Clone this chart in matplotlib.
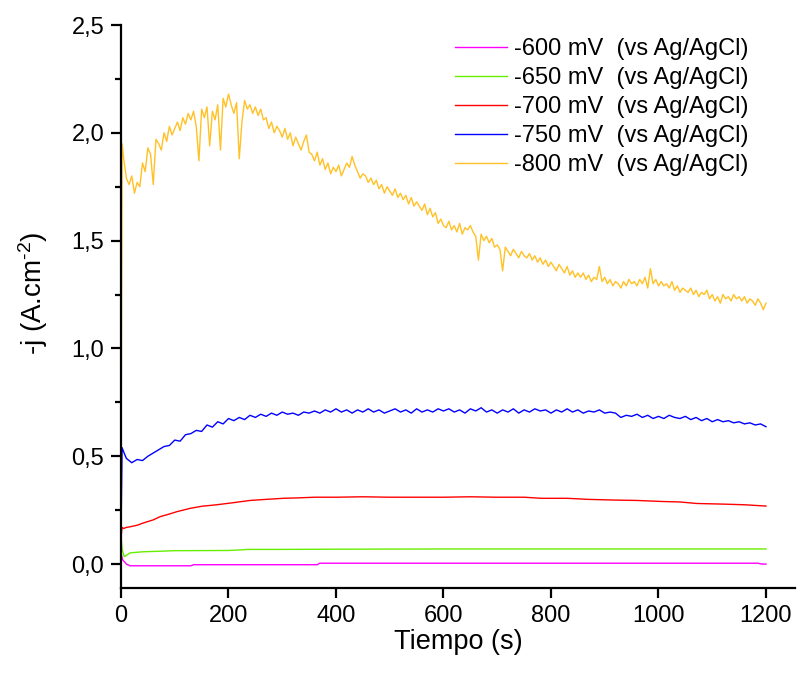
import matplotlib
matplotlib.use("Agg")
import matplotlib.pyplot as plt
from matplotlib.ticker import FuncFormatter, MultipleLocator

plt.rcParams['font.family'] = ['Liberation Sans', 'DejaVu Sans']
plt.rcParams['mathtext.fontset'] = 'custom'
plt.rcParams['mathtext.rm'] = 'Liberation Sans'
plt.rcParams['mathtext.it'] = 'Liberation Sans'

# -600 mV
t_600 = [0, 3, 10, 17, 130, 135, 365, 370, 1185, 1192, 1200]
j_600 = [0.05, 0.02, 0.0, -0.008, -0.008, -0.003, -0.003, 0.004, 0.004, 0.0, 0.0]

# -650 mV
t_650 = [0, 2, 6, 17, 41, 79, 98, 200, 225, 235, 300, 400, 600, 800, 1000, 1200]
j_650 = [0.13, 0.07, 0.034, 0.052, 0.057, 0.06, 0.062, 0.063, 0.066, 0.068,
         0.068, 0.069, 0.07, 0.07, 0.07, 0.07]

# -700 mV
t_700 = [0, 2, 5, 10, 17, 30, 41, 60, 73, 90, 104, 128, 150, 178, 210, 240,
         270, 302, 330, 360, 400, 450, 500, 550, 600, 650, 700, 750, 782, 830,
         870, 916, 960, 1009, 1040, 1071, 1121, 1160, 1200]
j_700 = [0.125, 0.17, 0.165, 0.17, 0.173, 0.18, 0.19, 0.205, 0.22, 0.232,
         0.243, 0.258, 0.268, 0.275, 0.285, 0.295, 0.30, 0.305, 0.307, 0.31,
         0.31, 0.312, 0.31, 0.31, 0.31, 0.312, 0.31, 0.31, 0.305, 0.305,
         0.30, 0.297, 0.295, 0.29, 0.288, 0.281, 0.278, 0.275, 0.269]

# -750 mV
t_750 = [0, 2, 5] + list(range(10, 1201, 10))
j_750 = [0.14, 0.54, 0.52,
         0.49, 0.47, 0.485, 0.48, 0.50, 0.515, 0.53, 0.545, 0.55, 0.575,
         0.57, 0.60, 0.605, 0.62, 0.615, 0.645, 0.635, 0.66, 0.65, 0.675,
         0.665, 0.68, 0.67, 0.69, 0.68, 0.695, 0.685, 0.70, 0.69, 0.705,
         0.695, 0.70, 0.69, 0.705, 0.70, 0.71, 0.70, 0.715, 0.705, 0.72,
         0.705, 0.715, 0.70, 0.715, 0.705, 0.72, 0.705, 0.715, 0.70, 0.71,
         0.72, 0.705, 0.715, 0.70, 0.72, 0.705, 0.715, 0.705, 0.72, 0.71,
         0.72, 0.705, 0.715, 0.70, 0.72, 0.71, 0.725, 0.705, 0.715, 0.70,
         0.715, 0.705, 0.72, 0.70, 0.715, 0.705, 0.72, 0.71, 0.715, 0.70,
         0.715, 0.705, 0.72, 0.705, 0.715, 0.70, 0.71, 0.705, 0.715, 0.70,
         0.705, 0.70, 0.68, 0.69, 0.685, 0.695, 0.68, 0.69, 0.675, 0.685,
         0.675, 0.69, 0.68, 0.675, 0.685, 0.67, 0.68, 0.665, 0.675, 0.66,
         0.67, 0.66, 0.665, 0.655, 0.66, 0.65, 0.655, 0.645, 0.65, 0.637]

# -800 mV
t_800 = [0, 2] + list(range(5, 1201, 5))
j_800 = [0.32, 1.95,
         1.88, 1.79, 1.76, 1.80, 1.72, 1.77, 1.75, 1.86, 1.82, 1.93,
         1.90, 1.76, 1.97, 1.95, 1.92, 2.00, 1.96, 2.03, 1.99, 2.02,
         2.05, 2.01, 2.07, 2.04, 2.09, 2.06, 2.10, 2.03, 1.87, 2.11,
         2.07, 2.12, 1.94, 2.10, 2.06, 2.13, 1.92, 2.16, 2.12, 2.18,
         2.13, 2.09, 2.14, 1.88, 2.05, 2.15, 2.11, 2.13, 2.09, 2.12,
         2.08, 2.11, 2.06, 2.07, 2.02, 2.05, 2.00, 2.03, 2.01, 1.98,
         2.02, 1.97, 2.00, 1.94, 1.98, 1.95, 1.92, 1.96, 1.99, 1.91,
         1.90, 1.87, 1.91, 1.85, 1.88, 1.83, 1.86, 1.81, 1.84, 1.82,
         1.85, 1.80, 1.83, 1.86, 1.84, 1.89, 1.85, 1.82, 1.79, 1.81,
         1.80, 1.77, 1.79, 1.76, 1.78, 1.74, 1.76, 1.72, 1.75, 1.73,
         1.71, 1.74, 1.70, 1.72, 1.69, 1.71, 1.67, 1.70, 1.66, 1.68,
         1.66, 1.64, 1.67, 1.62, 1.65, 1.61, 1.63, 1.58, 1.60, 1.57,
         1.56, 1.59, 1.55, 1.57, 1.54, 1.58, 1.53, 1.56, 1.55, 1.57,
         1.54, 1.52, 1.41, 1.53, 1.50, 1.52, 1.49, 1.51, 1.47, 1.48,
         1.46, 1.36, 1.47, 1.45, 1.43, 1.46, 1.44, 1.42, 1.45, 1.43,
         1.42, 1.44, 1.41, 1.43, 1.40, 1.42, 1.39, 1.41, 1.38, 1.40,
         1.38, 1.36, 1.39, 1.37, 1.35, 1.38, 1.34, 1.36, 1.33, 1.35,
         1.33, 1.35, 1.32, 1.34, 1.31, 1.33, 1.32, 1.38, 1.31, 1.33,
         1.30, 1.32, 1.29, 1.31, 1.30, 1.28, 1.31, 1.29, 1.32, 1.30,
         1.31, 1.29, 1.32, 1.30, 1.33, 1.28, 1.37, 1.30, 1.32, 1.29,
         1.31, 1.29, 1.30, 1.28, 1.31, 1.27, 1.29, 1.26, 1.28, 1.27,
         1.26, 1.28, 1.25, 1.27, 1.24, 1.26, 1.25, 1.27, 1.23, 1.25,
         1.22, 1.24, 1.21, 1.25, 1.23, 1.24, 1.22, 1.25, 1.23, 1.24,
         1.22, 1.24, 1.21, 1.23, 1.22, 1.20, 1.23, 1.21, 1.18, 1.21]

series = [
    (t_600, j_600, '#FF00FF', '-600 mV  (vs Ag/AgCl)'),
    (t_650, j_650, '#66EE00', '-650 mV  (vs Ag/AgCl)'),
    (t_700, j_700, '#FF0000', '-700 mV  (vs Ag/AgCl)'),
    (t_750, j_750, '#0000FF', '-750 mV  (vs Ag/AgCl)'),
    (t_800, j_800, '#FFC125', '-800 mV  (vs Ag/AgCl)'),
]

fig = plt.figure(figsize=(8.08, 6.75), dpi=100)
ax = fig.add_axes([121 / 808, 1 - 588 / 675, 674 / 808, 563 / 675])

for t, j, color, label in series:
    ax.plot(t, j, color=color, lw=1.0, label=label)

ax.set_xlim(0, 1254)
ax.set_ylim(-0.111, 2.5)
ax.xaxis.set_major_locator(MultipleLocator(200))
ax.yaxis.set_major_locator(MultipleLocator(0.5))
ax.yaxis.set_minor_locator(MultipleLocator(0.25))
ax.yaxis.set_major_formatter(FuncFormatter(lambda v, p: f"{v:.1f}".replace('.', ',')))

for side in ['top', 'right']:
    ax.spines[side].set_visible(False)
for side in ['left', 'bottom']:
    ax.spines[side].set_linewidth(1.6)

ax.tick_params(which='major', direction='out', length=7, width=1.6, labelsize=17, pad=5)
ax.tick_params(which='minor', direction='out', length=4, width=1.6)

ax.set_xlabel('Tiempo (s)', fontsize=19.5)
ax.xaxis.set_label_coords(0.5, -0.072)
ax.set_ylabel(r'-j (A.cm$^{\text{-2}}$)', fontsize=20)
ax.yaxis.set_label_coords(-0.105, 0.523)

ax.legend(loc='upper left', bbox_to_anchor=(455 / 808, 1 - 38 / 675),
          bbox_transform=fig.transFigure, frameon=False, fontsize=17,
          handlelength=2.2, handletextpad=0.3, labelspacing=0.3,
          borderpad=0, borderaxespad=0)

fig.savefig('out.png', dpi=100)
